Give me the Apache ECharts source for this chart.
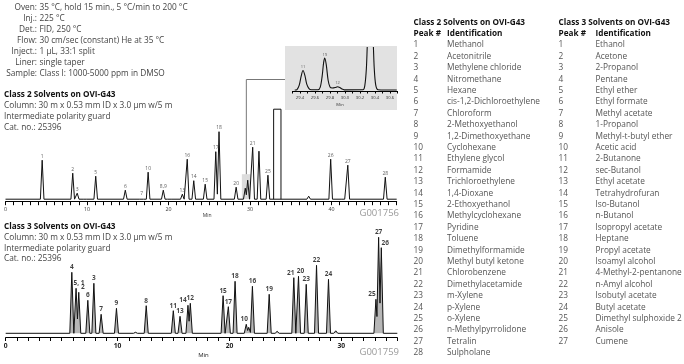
<!DOCTYPE html>
<html><head><meta charset="utf-8">
<script src="https://cdn.jsdelivr.net/npm/echarts@6/dist/echarts.min.js"></script>
<style>html,body{margin:0;padding:0;background:#fff}#c{width:684px;height:364px}</style>
</head><body><div id="c"></div>
<script>
const FONT = '"Open Sans", "Noto Sans", sans-serif';

// ---- text content ----
const conditionLabels = ['Oven:', 'Inj.:', 'Det.:', 'Flow:', 'Inject.:', 'Liner:', 'Sample:'];
const conditionValues = ['35 °C, hold 15 min., 5 °C/min to 200 °C', '225 °C', 'FID, 250 °C',
  '30 cm/sec (constant) He at 35 °C', '1 µL, 33:1 split', 'single taper', 'Class I: 1000-5000 ppm in DMSO'];
const class2Info = ['Class 2 Solvents on OVI-G43', 'Column: 30 m x 0.53 mm ID x 3.0 µm w/5 m',
  'Intermediate polarity guard', 'Cat. no.: 25396'];
const class3Info = ['Class 3 Solvents on OVI-G43', 'Column: 30 m x 0.53 mm ID x 3.0 µm w/5 m',
  'Intermediate polarity guard', 'Cat. no.: 25396'];
const tableHeaders = ['Peak #', 'Identification'];
const class2Names = ['Methanol', 'Acetonitrile', 'Methylene chloride', 'Nitromethane', 'Hexane',
  'cis-1,2-Dichloroethylene', 'Chloroform', '2-Methoxyethanol', '1,2-Dimethoxyethane', 'Cyclohexane',
  'Ethylene glycol', 'Formamide', 'Trichloroethylene', '1,4-Dioxane', '2-Ethoxyethanol',
  'Methylcyclohexane', 'Pyridine', 'Toluene', 'Dimethylformamide', 'Methyl butyl ketone',
  'Chlorobenzene', 'Dimethylacetamide', 'm-Xylene', 'p-Xylene', 'o-Xylene', 'n-Methylpyrrolidone',
  'Tetralin', 'Sulpholane'];
const class3Names = ['Ethanol', 'Acetone', '2-Propanol', 'Pentane', 'Ethyl ether', 'Ethyl formate',
  'Methyl acetate', '1-Propanol', 'Methyl-t-butyl ether', 'Acetic acid', '2-Butanone', 'sec-Butanol',
  'Ethyl acetate', 'Tetrahydrofuran', 'Iso-Butanol', 'n-Butanol', 'Isopropyl acetate', 'Heptane',
  'Propyl acetate', 'Isoamyl alcohol', '4-Methyl-2-pentanone', 'n-Amyl alcohol', 'Isobutyl acetate',
  'Butyl acetate', 'Dimethyl sulphoxide 2', 'Anisole', 'Cumene'];
const chartCodes = ['G001756', 'G001759'];

// ---- Class 2 chromatogram: retention time (min), peak height, label ----
const c2Times   = [4.5, 8.25, 8.8, 9.75, 11.07, 14.7, 16.7, 17.5, 19.36, 20.1, 21.7, 22.3, 23.1, 24.5, 25.8, 26.2, 28.3, 29.42, 29.72, 30.33, 31.1, 32.2, 37.2, 39.9, 41.4, 42.0, 46.6];
const c2Heights = [39, 26, 6, 1.5, 23, 9, 2, 27, 9, 1, 5, 40, 18.5, 15, 47.5, 67.5, 12, 11, 19, 52, 48, 24, 3, 40, 1.5, 34, 22];
const c2Labels  = ['1','2','3','','5','6','7','10','8,9','','13','16','14','15','17','18','20','','','21','','25','','26','','27','28'];
const c2Solvent = [32.9, 33.8, 90];   // DMSO, off-scale: start, end, clipped height
const c2Window  = [29.0, 30.1, 25];   // expanded window: start, end, height
const c2Ticks   = [0, 10, 20, 30, 40];

// ---- expanded window trace (29.3-30.7 min) ----
const insetTimes  = [29.33, 29.36, 29.39, 29.415, 29.44, 29.465, 29.49, 29.52, 29.55, 29.64, 29.67, 29.695, 29.715, 29.73, 29.75, 29.775, 29.80, 29.83, 29.87, 29.90, 29.93, 29.96, 29.99, 30.24, 30.265, 30.285, 30.30, 30.32, 30.355, 30.375, 30.39, 30.41, 30.44, 30.69];
const insetSignal = [0, 0.5, 5, 14, 20, 15, 6, 1.5, 0.3, 0.3, 3, 14, 28, 32.7, 26, 10, 3, 2, 2.5, 3.3, 2.5, 1, 0.2, 0.3, 5, 22, 50, 70, 70, 50, 22, 5, 0.3, 0];
const insetPeakTimes   = [29.44, 29.73, 29.90];
const insetPeakHeights = [20, 32.7, 3.3];
const insetPeakLabels  = ['11', '19', '12'];

// ---- Class 3 chromatogram ----
const c3Times   = [5.91, 6.29, 6.53, 7.34, 7.88, 8.53, 9.9, 11.6, 12.56, 14.98, 15.58, 16.29, 16.5, 19.43, 19.9, 20.5, 21.5, 21.72, 22.05, 23.55, 24.26, 25.75, 26.17, 26.86, 27.78, 28.85, 29.5, 33.09, 33.33, 33.57];
const c3Heights = [61, 45, 41, 33, 50, 19, 25, 1, 27.6, 22.6, 17, 28, 30, 37.6, 26.6, 52, 9, 6, 47, 39, 2, 55.6, 57, 49, 68, 54, 2.5, 34, 96, 85.6];
const c3Labels  = ['4','5, 1','2','6','3','7','9','','8','11','13','14','12','15','17','18','10','','16','19','','21','20','23','22','24','','25','27','26'];
const c3Ticks   = [0, 10, 20, 30];

// ---- helpers ----
function buildTrace(times, heights, hw, xmin, xmax) {
  const pts = [[xmin, 0]];
  for (let i = 0; i < times.length; i++) {
    const t = times[i], h = heights[i];
    if (i > 0 && (t - hw) < (times[i - 1] + hw)) {
      pts.pop();
      const t1 = times[i - 1], h1 = heights[i - 1];
      const x = (h1 * (hw + t1) + h * (t - hw)) / (h1 + h);
      const y = h1 * (1 - (x - t1) / hw);
      pts.push([x, y]);
    } else {
      pts.push([t - hw, 0]);
    }
    pts.push([t, h]);
    pts.push([t + hw, 0]);
  }
  pts.push([xmax, 0]);
  return pts;
}
function labelSeries(idx, times, heights, labels, style, offsets) {
  return {
    type: 'scatter', xAxisIndex: idx, yAxisIndex: idx, symbolSize: 1, silent: true,
    itemStyle: { color: 'rgba(0,0,0,0)' }, z: 5,
    label: Object.assign({ show: true, position: 'top', distance: 1, fontFamily: FONT }, style),
    data: times.map((t, i) => ({
      value: [t, heights[i]],
      label: { show: labels[i] !== '', formatter: labels[i], offset: [(offsets && offsets[labels[i]]) || 0, 0] }
    }))
  };
}
const c3LabelOffsets = { '5, 1': 3, '2': 4, '14': -5, '25': -4, '26': 4, '21': -3, '20': 2, '10': -2 };

const chart = echarts.init(document.getElementById('c'), null, { renderer: 'canvas' });

const option = {
  animation: false,
  backgroundColor: '#fff',
  grid: [
    { left: 5.5, right: 287.3, top: 99.2, bottom: 162.3 },
    { left: 5.7, right: 286.7, top: 233.3, bottom: 26.3 },
    { left: 292.5, right: 286.5, top: 47.5, bottom: 273 }
  ],
  xAxis: [
    { gridIndex: 0, type: 'value', min: 0, max: 48, interval: 1,
      axisLine: { onZero: false, lineStyle: { color: '#000', width: 1 } },
      axisTick: { length: 3.5, lineStyle: { color: '#000', width: 1 } },
      axisLabel: { formatter: v => c2Ticks.includes(v) ? String(v) : '', fontSize: 5.3, color: '#333', margin: 5, fontFamily: FONT },
      splitLine: { show: false },
      name: 'Min', nameLocation: 'middle', nameGap: 11.5,
      nameTextStyle: { fontSize: 5, color: '#333', fontFamily: FONT, padding: [0, 0, 0, 12] } },
    { gridIndex: 1, type: 'value', min: 0, max: 35, interval: 1,
      axisLine: { onZero: false, lineStyle: { color: '#000', width: 1 } },
      axisTick: { length: 3.3, lineStyle: { color: '#000', width: 1 } },
      axisLabel: { formatter: v => c3Ticks.includes(v) ? String(v) : '', fontSize: 6.7, fontWeight: 'bold', color: '#222', margin: 5, fontFamily: FONT },
      splitLine: { show: false },
      name: 'Min', nameLocation: 'middle', nameGap: 14.5,
      nameTextStyle: { fontSize: 6, color: '#222', fontFamily: FONT, padding: [0, 0, 0, 4] } },
    { gridIndex: 2, type: 'value', min: 29.3, max: 30.7, interval: 0.1,
      axisLine: { onZero: false, lineStyle: { color: '#000', width: 1 } },
      axisTick: { length: 2.5, lineStyle: { color: '#000', width: 1 } },
      axisLabel: { formatter: v => (Math.round(v * 10) % 2 === 0 ? v.toFixed(1) : ''), fontSize: 4.2, color: '#333', margin: 4.5, fontFamily: FONT },
      splitLine: { show: false },
      name: 'Min', nameLocation: 'middle', nameGap: 11.5,
      nameTextStyle: { fontSize: 4.2, color: '#333', fontFamily: FONT, padding: [0, 10, 0, 0] } }
  ],
  yAxis: [
    { gridIndex: 0, type: 'value', min: -2.5, max: 100, show: false },
    { gridIndex: 1, type: 'value', min: -4.4, max: 100, show: false },
    { gridIndex: 2, type: 'value', min: -1, max: 43.5, show: false }
  ],
  series: [
    { type: 'line', xAxisIndex: 0, yAxisIndex: 0, showSymbol: false, silent: true,
      lineStyle: { color: '#111', width: 1 }, z: 3,
      data: buildTrace(c2Times, c2Heights, 0.22, 0, 48),
      markArea: { silent: true, itemStyle: { color: '#dcdcdc' },
        data: [[{ xAxis: c2Window[0], yAxis: 0 }, { xAxis: c2Window[1], yAxis: c2Window[2] }]] } },
    { type: 'line', xAxisIndex: 0, yAxisIndex: 0, showSymbol: false, silent: true,
      lineStyle: { color: '#111', width: 1 }, z: 3,
      data: [[c2Solvent[0], 0], [c2Solvent[0], c2Solvent[2]], [c2Solvent[1], c2Solvent[2]], [c2Solvent[1], 0]] },
    labelSeries(0, c2Times, c2Heights, c2Labels, { fontSize: 5, color: '#333' }),
    { type: 'line', xAxisIndex: 1, yAxisIndex: 1, showSymbol: false, silent: true,
      lineStyle: { color: '#111', width: 1 }, areaStyle: { color: '#999', origin: 0 }, z: 3,
      data: buildTrace(c3Times, c3Heights, 0.18, 0, 35) },
    labelSeries(1, c3Times, c3Heights, c3Labels, { fontSize: 6.5, fontWeight: 'bold', color: '#111' }, c3LabelOffsets),
    { type: 'line', xAxisIndex: 2, yAxisIndex: 2, showSymbol: false, silent: true, smooth: 0.3, clip: true,
      lineStyle: { color: '#111', width: 1.1 }, z: 3,
      data: insetTimes.map((t, i) => [t, insetSignal[i]]) },
    labelSeries(2, insetPeakTimes, insetPeakHeights, insetPeakLabels, { fontSize: 4, color: '#333' })
  ]
};
chart.setOption(option);

// ---- text blocks & decorations ----
function txt(text, x, y, style) {
  return { type: 'text', x: x, y: y, silent: true, z: 10,
    style: Object.assign({ text: text, fill: '#444', font: '8.3px ' + FONT, verticalAlign: 'middle', align: 'left' }, style || {}) };
}
const g = [];
// inset background
g.push({ type: 'rect', silent: true, z: -1, shape: { x: 285, y: 46, width: 112, height: 64 }, style: { fill: '#e2e2e2' } });
// connector from expanded window to inset
const p = chart.convertToPixel({ xAxisIndex: 0, yAxisIndex: 0 }, [(c2Window[0] + c2Window[1]) / 2, c2Window[2]]);
g.push({ type: 'polyline', silent: true, z: 1, shape: { points: [[p[0], p[1]], [p[0], 79.5], [285, 79.5]] },
  style: { stroke: '#777', lineWidth: 1, fill: null } });

conditionLabels.forEach((s, i) => {
  g.push(txt(s, 37, 7.4 + i * 11.1, { align: 'right' }));
  g.push(txt(conditionValues[i], 39.5, 7.4 + i * 11.1));
});
class2Info.forEach((s, i) => g.push(txt(s, 4, 95 + i * 10.95, i === 0 ? { font: 'bold 8.2px ' + FONT, fill: '#111' } : {})));
class3Info.forEach((s, i) => g.push(txt(s, 4, 226.7 + i * 10.8, i === 0 ? { font: 'bold 8.2px ' + FONT, fill: '#111' } : {})));

const tables = [
  { title: 'Class 2 Solvents on OVI-G43', names: class2Names, xNum: 413.5, xName: 447 },
  { title: 'Class 3 Solvents on OVI-G43', names: class3Names, xNum: 558.5, xName: 595.5 }
];
tables.forEach(tb => {
  g.push(txt(tb.title, tb.xNum, 22.2, { font: 'bold 8.2px ' + FONT, fill: '#111' }));
  g.push(txt(tableHeaders[0], tb.xNum, 33.6, { font: 'bold 8.2px ' + FONT, fill: '#111' }));
  g.push(txt(tableHeaders[1], tb.xName, 33.6, { font: 'bold 8.2px ' + FONT, fill: '#111' }));
  tb.names.forEach((n, i) => {
    const y = 45 + i * 11.4;
    g.push(txt(String(i + 1), tb.xNum, y, { fill: '#555' }));
    g.push(txt(n, tb.xName, y, { fill: '#555' }));
  });
});
g.push(txt(chartCodes[0], 399, 213.3, { align: 'right', font: '9.5px ' + FONT, fill: '#9a9a9a' }));
g.push(txt(chartCodes[1], 399, 352.7, { align: 'right', font: '9.5px ' + FONT, fill: '#9a9a9a' }));

chart.setOption({ graphic: { elements: g } });
</script>
</body></html>
